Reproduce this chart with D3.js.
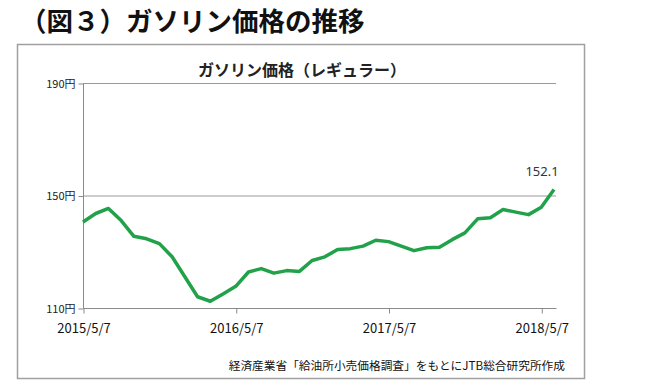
<!DOCTYPE html>
<html><head><meta charset="utf-8">
<script src="https://cdn.jsdelivr.net/npm/d3@7"></script>
<style>
html,body{margin:0;padding:0;background:#fff;}
svg{display:block;font-family:"Noto Sans CJK JP","Noto Sans",sans-serif;}
</style></head>
<body>
<svg id="c" width="650" height="390"></svg>
<script>
const pageTitle = "（図３）ガソリン価格の推移";
const chartTitle = "ガソリン価格（レギュラー）";
const sourceNote = "経済産業省「給油所小売価格調査」をもとにJTB総合研究所作成";
const prices = [140.6,143.6,145.4,141.1,135.5,134.6,132.9,128.2,121.1,114.0,112.4,115.0,117.7,122.8,124.0,122.4,123.3,123.0,126.9,128.2,130.8,131.1,132.0,134.1,133.6,132.0,130.4,131.4,131.6,134.3,136.7,141.7,142.1,145.0,144.1,143.2,145.8,152.1];
const xTickIndex = [0,12,24,36];
const xTickLabels = ["2015/5/7","2016/5/7","2017/5/7","2018/5/7"];
const yTicks = [110,150,190];
const lastLabel = "152.1";

const svg = d3.select("#c");
svg.append("text").attr("x",20).attr("y",31).attr("font-size",26.5).attr("font-weight","bold")
  .attr("fill","#111").text(pageTitle);

svg.append("rect").attr("x",17.5).attr("y",44.5).attr("width",567).attr("height",334)
  .attr("fill","#fff").attr("stroke","#a0a0a0").attr("stroke-width",1.5);

svg.append("text").attr("x",302).attr("y",76).attr("text-anchor","middle").attr("font-size",16)
  .attr("font-weight","bold").attr("fill","#222").text(chartTitle);

const x = d3.scaleLinear().domain([0,prices.length-1]).range([83,554]);
const y = d3.scaleLinear().domain([110,190]).range([308,83]);

// gridlines
svg.append("g").selectAll("line").data(yTicks.filter(d=>d!==110)).join("line")
  .attr("x1",83).attr("x2",556).attr("y1",d=>y(d)+0.5).attr("y2",d=>y(d)+0.5)
  .attr("stroke","#9a9a9a").attr("stroke-width",1);

// y axis
const yAxis = svg.append("g").attr("transform","translate(83.5,0.5)")
  .call(d3.axisLeft(y).tickValues(yTicks).tickSize(5).tickPadding(3).tickFormat(d=>d+"円"));
yAxis.select(".domain").attr("stroke","#8a8a8a").attr("d","M0,"+y(110)+"V"+y(190));
yAxis.selectAll(".tick line").attr("stroke","#8a8a8a");
yAxis.selectAll(".tick text").attr("font-size",11).attr("fill","#222")
  .attr("font-family","'Liberation Sans Narrow','Noto Sans CJK JP',sans-serif");

// x axis
const xAxis = svg.append("g").attr("transform","translate(0.5,"+(y(110)+0.5)+")")
  .call(d3.axisBottom(x).tickValues(xTickIndex).tickSize(5).tickPadding(10).tickFormat((d,i)=>xTickLabels[i]));
xAxis.select(".domain").attr("stroke","#8a8a8a").attr("d","M83,0H556");
xAxis.selectAll(".tick line").attr("stroke","#8a8a8a");
xAxis.selectAll(".tick text").attr("font-size",13).attr("fill","#111")
  .attr("font-family","'Noto Sans CJK JP',sans-serif");

// line
svg.append("path").datum(prices)
  .attr("d",d3.line().x((d,i)=>x(i)).y(d=>y(d)))
  .attr("fill","none").attr("stroke","#21a24a").attr("stroke-width",3.5)
  .attr("stroke-linejoin","round");

svg.append("text").attr("x",x(prices.length-1)-12).attr("y",y(prices[prices.length-1])-14)
  .attr("text-anchor","middle").attr("font-size",13).attr("fill","#333")
  .attr("font-family","'Noto Sans','Open Sans',sans-serif").text(lastLabel);

svg.append("text").attr("x",565).attr("y",370).attr("text-anchor","end").attr("font-size",11.7)
  .attr("fill","#111").text(sourceNote);
</script>
</body></html>
